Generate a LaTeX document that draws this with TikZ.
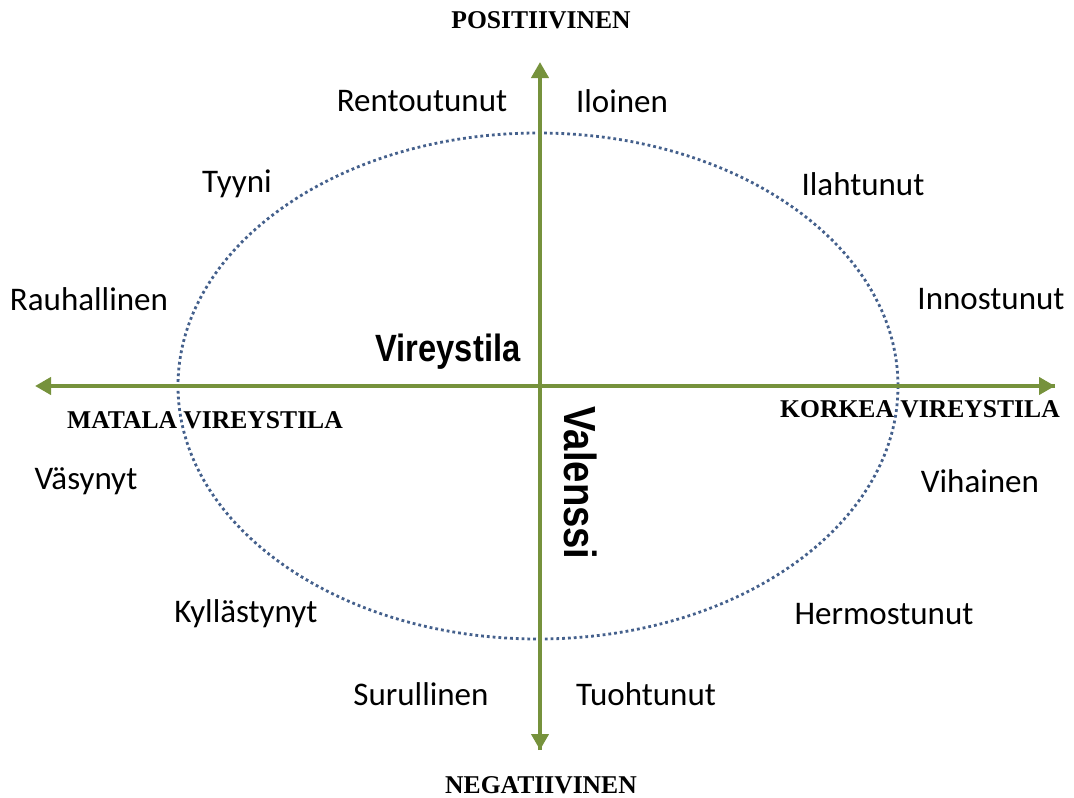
\documentclass[tikz,border=0pt]{standalone}
\usepackage{fontspec}
\setmainfont{Carlito}
\newfontfamily\timesbf{Liberation Serif}[BoldFont={* Bold}]
\newfontfamily\arialbf{Liberation Sans}
\usetikzlibrary{arrows.meta}
\definecolor{axisgreen}{RGB}{118,146,60}
\definecolor{ellblue}{RGB}{68,96,140}
\tikzset{
  lbl/.style={font=\fontsize{33}{36}\selectfont, inner sep=0pt},
  pole/.style={font=\timesbf\bfseries\fontsize{25.6}{28}\selectfont, inner sep=0pt},
  axlbl/.style={font=\arialbf\bfseries\fontsize{38}{40}\selectfont, inner sep=0pt},
  axis/.style={draw=axisgreen, line width=4pt, -{Triangle[length=16pt,width=17pt]}},
  ell/.style={draw=ellblue, line width=2.8pt, dash pattern=on 2.8pt off 3pt}
}
\begin{document}
\begin{tikzpicture}[x=1pt,y=-1pt]
\useasboundingbox (0,0) rectangle (1074,798);
\coordinate (c) at (538,386);
\draw[ell] (c) ellipse [x radius=360, y radius=253];
\coordinate (top) at (540,62);
\coordinate (bot) at (540,750);
\coordinate (lft) at (35,386);
\coordinate (rgt) at (1055,386);
\coordinate (vb) at (540,420);
\coordinate (hb) at (560,386);
\draw[axis] (bot) -- (top);
\draw[axis] (rgt) -- (lft);
\draw[axis] (hb) -- (rgt);
\draw[axis] (vb) -- (bot);

\node[pole] (pos) at (541,20) {POSITIIVINEN};
\node[pole] (neg) at (541,785) {NEGATIIVINEN};
\node[pole] (mat) at (205,420) {MATALA VIREYSTILA};
\node[pole] (kor) at (920,409) {KORKEA VIREYSTILA};

\node[lbl] (ren) at (422,101) {Rentoutunut};
\node[lbl] (ilo) at (622,101) {Iloinen};
\node[lbl] (tyy) at (237,184) {Tyyni};
\node[lbl] (ila) at (863,184) {Ilahtunut};
\node[lbl] (rau) at (89,299) {Rauhallinen};
\node[lbl] (inn) at (991,299) {Innostunut};
\node[lbl] (vas) at (86,481) {Väsynyt};
\node[lbl] (vih) at (980,481) {Vihainen};
\node[lbl] (kyl) at (246,614) {Kyllästynyt};
\node[lbl] (her) at (884,614) {Hermostunut};
\node[lbl] (sur) at (421,694) {Surullinen};
\node[lbl] (tuo) at (646,694) {Tuohtunut};

\node[axlbl] (vir) at (448,352) {\scalebox{0.86}[1]{Vireystila}};
\node[axlbl, font=\arialbf\bfseries\fontsize{45}{48}\selectfont, rotate=-90] (val) at (581,483) {\scalebox{0.85}[1]{Valenssi}};
\end{tikzpicture}
\end{document}
